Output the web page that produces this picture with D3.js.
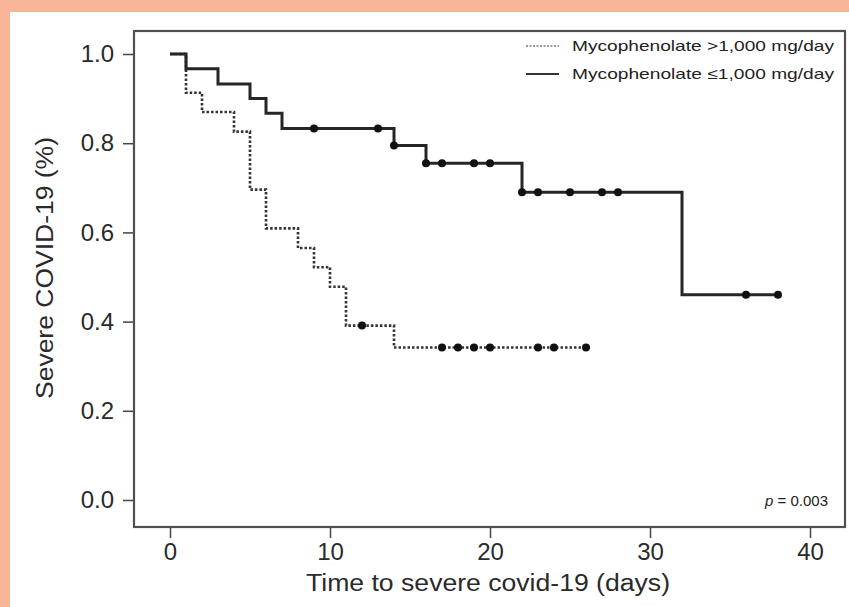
<!DOCTYPE html>
<html>
<head>
<meta charset="utf-8">
<script src="https://cdn.jsdelivr.net/npm/d3@7"></script>
<style>
  html, body { margin: 0; padding: 0; background: #f8b598; }
  svg { display: block; font-family: "Liberation Sans", Arial, sans-serif; }
</style>
</head>
<body>
<div class="chart"></div>
<script>
// Kaplan-Meier steps
var highTimes = [0, 1, 2, 4, 5, 6, 8, 9, 10, 11, 14, 26];
var highSurv = [1, 0.913, 0.870, 0.826, 0.696, 0.609, 0.565, 0.522, 0.478, 0.391, 0.342, 0.342];
var highCensor = [12, 17, 18, 19, 20, 23, 24, 26];

var lowTimes = [0, 1, 3, 5, 6, 7, 14, 16, 22, 32, 38];
var lowSurv = [1, 0.967, 0.933, 0.9, 0.867, 0.833, 0.795, 0.755, 0.69, 0.46, 0.46];
var lowCensor = [9, 13, 14, 16, 17, 19, 20, 22, 23, 25, 27, 28, 36, 38];

var xTicks = [0, 10, 20, 30, 40];
var yTicks = [0, 0.2, 0.4, 0.6, 0.8, 1.0];
var legendLabels = ["Mycophenolate >1,000 mg/day", "Mycophenolate \u22641,000 mg/day"];

var width = 849, height = 607;
var box = { left: 134, top: 31, right: 845, bottom: 527 };

const svg = d3.select(".chart").append("svg")
    .attr("width", width)
    .attr("height", height);

//white panel over the orange frame
svg.append("rect")
    .attr("x", 10).attr("y", 12)
    .attr("width", width - 10).attr("height", height - 12)
    .attr("fill", "#ffffff");

var x = d3.scaleLinear().domain([0, 40]).range([170, 810]);
var y = d3.scaleLinear().domain([0, 1]).range([500, 54]);

//plot frame
svg.append("rect")
    .attr("x", box.left).attr("y", box.top)
    .attr("width", box.right - box.left).attr("height", box.bottom - box.top)
    .attr("fill", "none")
    .attr("stroke", "#505050")
    .attr("stroke-width", 2.2);

//axes
const yAxis = svg.append("g")
    .attr("transform", "translate(" + (box.left - 1) + ",0)")
    .call(d3.axisLeft(y).tickValues(yTicks).tickFormat(d3.format(".1f")).tickSize(10).tickPadding(9));
const xAxis = svg.append("g")
    .attr("transform", "translate(0," + (box.bottom + 1) + ")")
    .call(d3.axisBottom(x).tickValues(xTicks).tickSize(10).tickPadding(5));

[xAxis, yAxis].forEach(function (g) {
    g.select(".domain").remove();
    g.selectAll(".tick line").attr("stroke", "#444").attr("stroke-width", 1.5);
    g.selectAll(".tick text")
        .attr("fill", "#2a2a2a")
        .style("font-size", "24px")
        .style("font-family", "Liberation Sans, Arial, sans-serif");
});

//axis titles
svg.append("text")
    .attr("x", 488).attr("y", 591)
    .attr("text-anchor", "middle")
    .attr("fill", "#2a2a2a")
    .style("font-size", "23px")
    .attr("textLength", 364)
    .attr("lengthAdjust", "spacingAndGlyphs")
    .text("Time to severe covid-19 (days)");

svg.append("text")
    .attr("transform", "translate(53,268) rotate(-90)")
    .attr("text-anchor", "middle")
    .attr("fill", "#2a2a2a")
    .style("font-size", "23px")
    .attr("textLength", 262)
    .attr("lengthAdjust", "spacingAndGlyphs")
    .text("Severe COVID-19 (%)");

//step curves
var line = d3.line()
    .x(function (d) { return x(d[0]); })
    .y(function (d) { return y(d[1]); })
    .curve(d3.curveStepAfter);

function survAt(times, surv, t) {
    var s = surv[0];
    for (var i = 0; i < times.length; i++) {
        if (times[i] <= t) s = surv[i];
    }
    return s;
}

var curves = [
    { times: highTimes, surv: highSurv, censor: highCensor, dash: "2.5,2", w: 2.6, col: "#333" },
    { times: lowTimes, surv: lowSurv, censor: lowCensor, dash: null, w: 3, col: "#262626" }
];

curves.forEach(function (c) {
    svg.append("path")
        .datum(d3.zip(c.times, c.surv))
        .attr("d", line)
        .attr("fill", "none")
        .attr("stroke", c.col)
        .attr("stroke-width", c.w)
        .attr("stroke-dasharray", c.dash);

    svg.append("g").selectAll("circle")
        .data(c.censor)
        .enter()
        .append("circle")
        .attr("cx", function (d) { return x(d); })
        .attr("cy", function (d) { return y(survAt(c.times, c.surv, d)); })
        .attr("r", 4)
        .attr("fill", "#111");
});

//legend
var legend = svg.append("g").selectAll("g")
    .data(legendLabels)
    .enter()
    .append("g")
    .attr("transform", function (d, i) { return "translate(0," + (46 + i * 28) + ")"; });

legend.append("line")
    .attr("x1", 526).attr("x2", 559)
    .attr("y1", 0).attr("y2", 0)
    .attr("stroke", function (d, i) { return i === 0 ? "#777" : "#333"; })
    .attr("stroke-width", function (d, i) { return i === 0 ? 1.5 : 2; })
    .attr("stroke-dasharray", function (d, i) { return i === 0 ? "2,1.5" : null; });

legend.append("text")
    .attr("x", 572).attr("y", 5)
    .attr("fill", "#222")
    .style("font-size", "15px")
    .attr("textLength", 262)
    .attr("lengthAdjust", "spacingAndGlyphs")
    .text(function (d) { return d; });

//p value
var pText = svg.append("text")
    .attr("x", 828).attr("y", 506)
    .attr("text-anchor", "end")
    .attr("fill", "#222")
    .style("font-size", "15px");
pText.append("tspan").style("font-style", "italic").text("p");
pText.append("tspan").text(" = 0.003");
</script>
</body>
</html>
